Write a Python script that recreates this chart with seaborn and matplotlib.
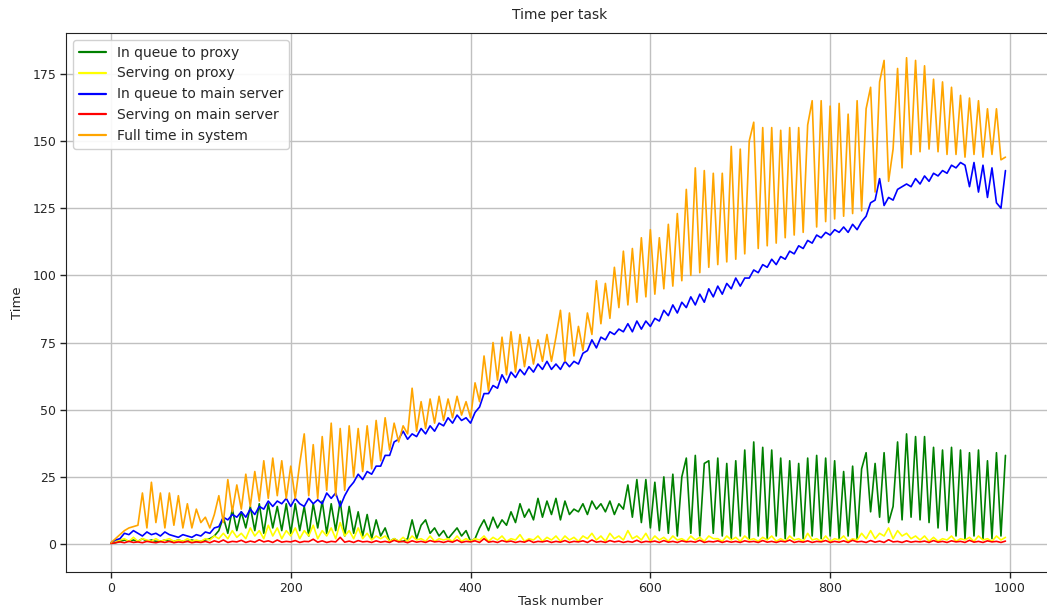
import numpy as np
import pandas as pd
import matplotlib
matplotlib.use("Agg")
import matplotlib.pyplot as plt
import seaborn as sns

# task numbers (every 5th task)
tasks = list(range(0, 1000, 5))

queue_proxy = [
    0.3, 0.5, 1, 1.5, 1, 1.5, 1, 2, 1, 1.5, 1, 1, 1.5, 1, 1, 1.5, 1, 1, 1.5, 1,
    1, 1.5, 2, 3, 5, 10, 4, 13, 5, 12, 6, 14, 5, 15, 4, 15, 6, 14, 5, 15,
    4, 15, 5, 14, 3, 15, 6, 16, 4, 15, 5, 16, 3, 14, 4, 12, 3, 11, 2, 9,
    3, 6, 1, 2, 1, 1, 2, 9, 2, 7, 9, 4, 6, 3, 5, 2, 4, 6, 3, 5,
    1, 2, 6, 9, 5, 10, 6, 9, 7, 12, 8, 15, 10, 13, 9, 17, 10, 16, 11, 17,
    9, 16, 11, 13, 12, 15, 11, 16, 13, 15, 12, 16, 11, 15, 13, 22, 10, 24, 8, 24,
    6, 23, 5, 25, 4, 26, 3, 25, 32, 4, 33, 3, 30, 31, 4, 32, 3, 30, 2, 31,
    3, 35, 2, 38, 3, 36, 2, 35, 3, 32, 2, 31, 3, 30, 2, 32, 3, 33, 2, 32,
    3, 31, 2, 27, 3, 29, 2, 28, 34, 12, 30, 10, 34, 8, 14, 38, 9, 41, 10, 40,
    9, 40, 8, 36, 6, 35, 5, 36, 3, 35, 2, 34, 3, 35, 2, 31, 2, 34, 3, 33,
]

serve_proxy = [
    0.3, 1, 1.5, 2, 1, 2.5, 1, 2, 1.5, 1, 2, 1, 1.5, 2, 1, 1.5, 1, 2, 1, 1.5,
    1, 2, 1.5, 3, 2, 4, 2, 5, 2.5, 4, 2, 6, 3, 5, 2, 7, 3, 6, 2, 5,
    3, 6, 2, 5, 3, 7, 2, 5, 3, 6, 2, 8, 3, 5, 2, 6, 2, 4, 1.5, 3,
    2, 3, 1, 2, 1, 2.5, 1, 3, 1.5, 2, 1, 3, 1, 2, 1.5, 2, 1, 3, 1, 2,
    1, 2, 1.5, 3, 1, 2.5, 1.5, 3, 1, 2, 1.5, 3.5, 1, 2, 1.5, 3, 1, 2.5, 1.5, 3,
    1, 3, 1.5, 2.5, 1, 3, 2, 4, 1.5, 3, 1, 4, 2, 3, 1.5, 5, 2, 3, 1.5, 4,
    1, 3, 1.5, 2.5, 1, 3, 1.5, 2, 1, 3, 1.5, 2.5, 1, 3, 2, 2, 1, 3, 1.5, 2.5,
    1, 3, 1.5, 2, 1, 2.5, 1.5, 3, 1, 2, 1, 3, 1.5, 2, 1, 4, 1.5, 2, 1, 3,
    1, 2, 1.5, 3, 1, 2, 1.5, 4, 2, 5, 2, 4, 3, 6, 2, 5, 3, 4, 2, 3,
    1.5, 3, 1, 2.5, 1, 2, 1.5, 3, 1, 2, 1.5, 2.5, 1, 3, 1.5, 2, 1, 3, 1.5, 2.5,
]

queue_main = [
    0.5, 1.5, 2, 4, 3.5, 5, 4, 3, 4.5, 3.5, 4, 3, 4.5, 3.5, 3, 2.5, 3.5, 3, 2.5, 3.5,
    3, 4.5, 4, 6, 6.5, 10, 9, 11, 10, 12, 10, 13, 11, 14, 13, 16, 14, 16, 15, 17,
    14, 17, 15, 14, 17, 15, 16.5, 15, 19, 17, 19, 14, 18, 21, 23, 26, 24, 27, 26, 29,
    29, 33, 33, 38, 39, 42, 39, 41, 40, 43, 41, 44, 42, 45, 44, 47, 45, 48, 46, 47,
    45, 49, 51, 56, 56, 59, 58, 63, 60, 64, 62, 65, 63, 66, 64, 67, 65, 68, 65, 67,
    65, 68, 66, 68, 67, 71, 72, 76, 73, 77, 76, 79, 78, 80, 79, 82, 79, 83, 80, 83,
    81, 84, 83, 87, 85, 89, 86, 90, 88, 92, 89, 93, 90, 95, 92, 96, 93, 97, 95, 99,
    96, 99, 99, 102, 101, 104, 103, 106, 104, 107, 106, 109, 108, 111, 110, 113, 112, 115, 114, 116,
    115, 117, 116, 118, 116, 119, 117, 120, 122, 127, 128, 136, 126, 129, 128, 132, 133, 134, 133, 136,
    134, 137, 135, 138, 137, 139, 138, 141, 140, 142, 141, 133, 142, 131, 141, 129, 140, 127, 125, 139,
]

serve_main = [
    0.2, 0.5, 0.8, 0.5, 1.0, 0.6, 0.8, 0.5, 1.0, 0.7, 0.5, 0.9, 0.6, 1.0, 0.5, 0.8, 0.6, 1.0, 0.5, 0.8,
    0.6, 1.0, 0.5, 1.2, 0.7, 1.5, 0.6, 1.0, 0.8, 1.4, 0.6, 1.1, 0.7, 1.6, 0.8, 1.2, 0.6, 1.5, 0.7, 1.0,
    0.8, 1.3, 0.6, 1.0, 0.9, 1.8, 0.7, 1.2, 0.6, 1.0, 0.8, 2.5, 0.7, 1.1, 0.6, 1.3, 0.8, 1.0, 0.6, 1.2,
    0.7, 1.0, 0.6, 1.4, 0.8, 1.0, 0.5, 1.2, 0.7, 1.0, 0.6, 1.3, 0.8, 1.0, 0.6, 1.1, 0.7, 1.5, 0.6, 1.0,
    0.8, 1.2, 0.6, 2.0, 0.7, 1.0, 0.6, 1.3, 0.8, 1.1, 0.6, 1.0, 0.7, 1.4, 0.6, 1.0, 0.8, 1.2, 0.6, 1.0,
    0.7, 1.3, 0.6, 1.0, 0.8, 1.2, 0.6, 1.5, 0.7, 1.0, 0.6, 1.3, 0.8, 1.1, 0.6, 1.0, 0.7, 1.4, 0.6, 1.0,
    0.8, 1.1, 0.6, 1.3, 0.7, 1.0, 0.6, 1.2, 0.8, 1.0, 0.7, 1.4, 0.6, 1.0, 0.8, 1.2, 0.6, 1.1, 0.7, 1.0,
    0.6, 1.2, 0.8, 1.0, 0.6, 1.3, 0.7, 1.0, 0.6, 1.1, 0.8, 1.5, 0.6, 1.0, 0.7, 1.2, 0.6, 1.0, 0.8, 1.3,
    0.6, 1.0, 0.7, 1.2, 0.6, 1.4, 0.8, 1.0, 0.6, 1.3, 0.7, 1.1, 0.6, 1.6, 0.8, 1.0, 0.6, 1.2, 0.7, 1.0,
    0.8, 1.1, 0.6, 1.3, 0.7, 1.0, 0.6, 1.2, 0.8, 1.0, 0.6, 1.4, 0.7, 1.0, 0.6, 1.2, 0.8, 1.0, 0.6, 1.1,
]

full_time = [
    0.5, 2, 3.5, 5, 6, 6.5, 7, 19, 6, 23, 8, 19, 6, 19, 7, 18, 6, 15, 6, 13,
    8, 10, 6, 11, 18, 8, 24, 12, 22, 13, 26, 14, 27, 16, 31, 17, 32, 18, 31, 17,
    29, 17, 30, 41, 18, 37, 17, 40, 20, 45, 18, 43, 20, 44, 25, 43, 27, 44, 28, 46,
    31, 47, 35, 45, 38, 44, 41, 58, 42, 53, 43, 54, 45, 55, 46, 54, 47, 55, 48, 53,
    47, 60, 53, 70, 57, 75, 61, 77, 63, 79, 64, 78, 66, 77, 67, 76, 68, 78, 68, 77,
    87, 68, 86, 70, 81, 72, 86, 78, 98, 82, 97, 84, 103, 88, 109, 89, 110, 90, 114, 92,
    117, 93, 114, 95, 119, 96, 123, 98, 132, 100, 140, 101, 139, 103, 138, 104, 138, 105, 148, 106,
    147, 108, 150, 157, 110, 155, 111, 155, 112, 154, 114, 155, 115, 155, 116, 156, 165, 118, 165, 120,
    163, 121, 164, 122, 160, 123, 165, 124, 162, 170, 131, 172, 180, 135, 147, 177, 140, 181, 145, 180,
    146, 178, 147, 173, 146, 172, 145, 170, 145, 167, 144, 166, 145, 165, 144, 162, 145, 162, 143, 144,
]

series_names = [
    "In queue to proxy",
    "Serving on proxy",
    "In queue to main server",
    "Serving on main server",
    "Full time in system",
]
series_values = [queue_proxy, serve_proxy, queue_main, serve_main, full_time]
series_colors = ["green", "yellow", "blue", "red", "orange"]

x_ticks = [0, 200, 400, 600, 800, 1000]
y_ticks = [0, 25, 50, 75, 100, 125, 150, 175]

sns.set_style("whitegrid", {
    "axes.edgecolor": "#222222",
    "grid.color": "#c0c0c0",
    "xtick.bottom": True,
    "ytick.left": True,
    "axes.linewidth": 1.0,
})
plt.rcParams["font.family"] = ["DejaVu Sans"]
plt.rcParams["font.size"] = 9.5

fig = plt.figure(figsize=(10.47, 6.10), dpi=100)
ax = fig.add_axes([66 / 1047, 38 / 610, 988 / 1047, 539 / 610])

for name, vals, col in zip(series_names, series_values, series_colors):
    df = pd.DataFrame({"task": tasks, "time": vals})
    sns.lineplot(data=df, x="task", y="time", color=col, label=name,
                 linewidth=1.2, estimator=None, sort=False, ax=ax)

ax.set_xlim(-50, 1049)
ax.set_ylim(-10.4, 190.2)
ax.set_xticks(x_ticks)
ax.set_yticks(y_ticks)
ax.tick_params(axis="both", labelsize=9, length=4, width=1, color="#222222",
               direction="out", pad=3)
ax.grid(True, color="#c0c0c0", linewidth=1.0)
ax.spines["right"].set_visible(False)
ax.set_title("Time per task", fontsize=10, pad=10)
ax.set_xlabel("Task number", fontsize=9.5, labelpad=0)
ax.set_ylabel("Time", fontsize=9.5, labelpad=6)

leg = ax.legend(loc="upper left", fontsize=10, frameon=True, framealpha=0.9,
                edgecolor="#cccccc", fancybox=True, handlelength=2.0,
                handletextpad=0.8, borderaxespad=0.5)
for line in leg.get_lines():
    line.set_linewidth(1.6)

fig.savefig("out.png", dpi=100)
